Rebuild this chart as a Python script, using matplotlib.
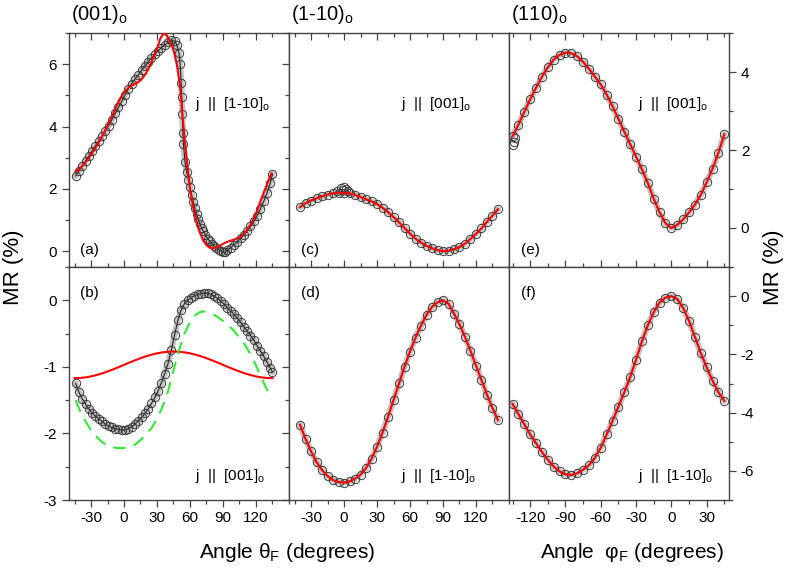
import numpy as np
import matplotlib
matplotlib.use("Agg")
import matplotlib.pyplot as plt
from matplotlib.ticker import MultipleLocator

plt.rcParams['font.family'] = ['Liberation Sans', 'DejaVu Sans']
plt.rcParams['mathtext.default'] = 'regular'
plt.rcParams['axes.unicode_minus'] = False

# ---- panel (a): (001)o, j || [1-10]o ----
a_theta = [-44, -41, -38, -35, -32, -29, -26, -23, -20, -17, -14, -11, -8, -5, -2, 1, 4, 7, 10, 13,
           16, 19, 22, 25, 28, 31, 34, 37, 40, 43, 46, 48, 50, 51, 52, 52.5, 53, 53.5, 54, 55.5,
           57, 58.5, 60, 61.5, 63, 64.5, 66, 67.5, 69, 70.5, 72, 74, 76, 78, 80, 82, 84, 86, 88, 90,
           92, 94, 97, 100, 103, 106, 109, 112, 115, 118, 121, 124, 127, 130, 133, 135]
a_mr = [2.42, 2.58, 2.74, 2.90, 3.06, 3.22, 3.38, 3.54, 3.70, 3.86, 4.03, 4.22, 4.42, 4.62, 4.82, 5.02, 5.22, 5.38, 5.52, 5.66,
        5.80, 5.94, 6.07, 6.20, 6.32, 6.43, 6.53, 6.62, 6.70, 6.76, 6.74, 6.62, 6.35, 6.00, 5.40, 4.95, 4.40, 3.80, 3.45, 2.85,
        2.55, 2.30, 2.05, 1.80, 1.58, 1.38, 1.20, 1.03, 0.88, 0.76, 0.65, 0.52, 0.41, 0.32, 0.24, 0.17, 0.11, 0.06, 0.02, -0.03,
        -0.02, 0.04, 0.12, 0.21, 0.31, 0.42, 0.53, 0.66, 0.80, 0.96, 1.14, 1.36, 1.60, 1.87, 2.20, 2.48]
a_fit_theta = [-44, -40, -35, -30, -25, -20, -15, -10, -5, 0, 5, 10, 15, 20, 25, 30, 33, 36, 39, 42, 45, 48,
               51, 54, 57, 60, 63, 66, 69, 72, 75, 78, 81, 84, 88, 92, 96, 100, 105, 110, 115, 120, 125, 130, 134]
a_fit_mr = [2.56, 2.66, 2.86, 3.10, 3.38, 3.68, 4.02, 4.40, 4.80, 5.10, 5.28, 5.36, 5.48, 5.70, 6.05, 6.50, 6.82, 6.99, 6.92, 6.72, 6.45, 6.0,
            5.3, 4.0, 2.95, 2.0, 1.4, 0.95, 0.6, 0.35, 0.2, 0.12, 0.1, 0.13, 0.2, 0.28, 0.33, 0.38, 0.45, 0.6, 0.85, 1.2, 1.7, 2.15, 2.5]

# ---- panel (b): (001)o, j || [001]o ----
b_theta = [-44, -41, -38, -35, -32, -29, -26, -23, -20, -17, -14, -11, -8, -5, -2, 1, 4, 7, 10, 13, 16, 19, 22, 25,
           28, 31, 34, 37, 40, 43, 46, 49, 52, 55, 58, 61, 64, 67, 70, 73, 76, 79, 82, 85, 88, 91, 94, 97, 100,
           103, 106, 109, 112, 115, 118, 121, 124, 127, 130, 133, 135]
b_mr = [-1.25, -1.38, -1.48, -1.56, -1.63, -1.69, -1.74, -1.78, -1.82, -1.86, -1.89, -1.91, -1.93, -1.94, -1.95, -1.95, -1.93, -1.90,
        -1.86, -1.81, -1.76, -1.70, -1.63, -1.55, -1.46, -1.36, -1.24, -1.10, -0.95, -0.75, -0.52, -0.30, -0.14, -0.05, 0.0, 0.04,
        0.07, 0.09, 0.10, 0.11, 0.11, 0.09, 0.06, 0.03, -0.01, -0.06, -0.11, -0.16, -0.21, -0.27, -0.33, -0.40, -0.46, -0.53,
        -0.60, -0.68, -0.76, -0.84, -0.93, -1.02, -1.08]
b_fit_theta = [-45, -40, -35, -30, -25, -20, -15, -10, -5, 0, 5, 10, 15, 20, 25, 30, 35, 40, 45, 50, 55, 60, 65,
               70, 75, 80, 85, 90, 95, 100, 105, 110, 115, 120, 125, 130, 135]
b_fit_mr = [-1.17, -1.167, -1.158, -1.143, -1.123, -1.099, -1.07, -1.038, -1.005, -0.97, -0.935, -0.902, -0.87, -0.841,
            -0.817, -0.797, -0.782, -0.773, -0.77, -0.773, -0.782, -0.797, -0.817, -0.841, -0.87, -0.902, -0.935, -0.97,
            -1.005, -1.038, -1.07, -1.099, -1.123, -1.143, -1.158, -1.167, -1.17]
b_green_theta = [-44, -40, -35, -30, -25, -20, -15, -10, -5, 0, 5, 10, 15, 20, 25, 30, 35, 40, 45, 50, 55, 60,
                 65, 70, 75, 80, 85, 90, 95, 100, 105, 110, 115, 120, 125, 130, 134]
b_green_mr = [-1.5, -1.66, -1.82, -1.95, -2.05, -2.13, -2.18, -2.21, -2.22, -2.22, -2.2, -2.17, -2.1, -2.02, -1.92, -1.78,
              -1.6, -1.37, -1.05, -0.75, -0.5, -0.33, -0.22, -0.17, -0.17, -0.2, -0.25, -0.31, -0.38, -0.46, -0.56, -0.67,
              -0.81, -0.98, -1.17, -1.34, -1.48]

# ---- panel (c): (1-10)o, j || [001]o ----
c_theta = [-40, -35, -30, -25, -20, -15, -10, -5, 0, 5, 10, 15, 20, 25, 30, 35, 40, 45, 50, 55, 60, 65, 70,
           75, 80, 85, 90, 95, 100, 105, 110, 115, 120, 125, 130, 135, 140]
c_mr = [1.42, 1.55, 1.63, 1.70, 1.77, 1.82, 1.86, 1.88, 1.88, 1.86, 1.81, 1.74, 1.67, 1.60, 1.52, 1.40, 1.26, 1.10,
        0.93, 0.75, 0.57, 0.41, 0.28, 0.18, 0.10, 0.04, 0.01, 0.02, 0.07, 0.14, 0.25, 0.40, 0.56, 0.74, 0.95, 1.15, 1.35]
c_extra_theta = [-6, -3, -1, 0, 2, 4]
c_extra_mr = [1.95, 2.02, 1.97, 2.08, 2.0, 1.94]

# ---- panel (d): (1-10)o, j || [1-10]o ----
d_theta = c_theta
d_mr = [-1.87, -2.08, -2.27, -2.43, -2.55, -2.64, -2.70, -2.73, -2.74, -2.72, -2.68, -2.62, -2.52, -2.38, -2.20, -1.99,
        -1.75, -1.50, -1.25, -1.00, -0.77, -0.56, -0.38, -0.22, -0.10, -0.03, 0.0, -0.05, -0.20, -0.36, -0.55, -0.76,
        -0.98, -1.20, -1.42, -1.62, -1.80]

# ---- panels (e), (f): (110)o ----
phi = [-135, -130, -125, -120, -115, -110, -105, -100, -95, -90, -85, -80, -75, -70, -65, -60, -55, -50, -45,
       -40, -35, -30, -25, -20, -15, -10, -5, 0, 5, 10, 15, 20, 25, 30, 35, 40, 45]
e_mr = [2.35, 2.65, 2.98, 3.30, 3.60, 3.88, 4.12, 4.32, 4.44, 4.50, 4.48, 4.40, 4.26, 4.08, 3.88, 3.68, 3.42, 3.12,
        2.80, 2.47, 2.15, 1.83, 1.50, 1.15, 0.75, 0.40, 0.12, 0.0, 0.08, 0.22, 0.40, 0.60, 0.85, 1.17, 1.52, 1.93, 2.40]
e_extra_phi = [-135, -134, -133]
e_extra_mr = [2.12, 2.2, 2.3]
f_mr = [-3.70, -4.05, -4.40, -4.75, -5.05, -5.35, -5.62, -5.85, -6.02, -6.12, -6.14, -6.08, -5.96, -5.80, -5.55, -5.20,
        -4.75, -4.28, -3.80, -3.30, -2.78, -2.18, -1.55, -1.00, -0.55, -0.22, -0.05, 0.0, -0.10, -0.40, -0.85, -1.40,
        -1.95, -2.45, -2.90, -3.30, -3.60]

W, H = 789, 575
fig = plt.figure(figsize=(W / 100, H / 100), dpi=100)

col_left = [69, 289, 509]
col_w = 220
row_top = [33, 267]
row_h = [234, 233]

axes = {}
for r in range(2):
    for c in range(3):
        x0 = col_left[c] / W
        y0 = 1 - (row_top[r] + row_h[r]) / H
        axes[(r, c)] = fig.add_axes([x0, y0, col_w / W, row_h[r] / H])

band_kw = dict(color='#c4c4c4', lw=4.5, solid_capstyle='round', solid_joinstyle='round', zorder=1)
data_kw = dict(marker='o', ms=6, mfc='none', mec='#3a3a3a', mew=0.7, color='#222222', lw=0.8, zorder=2)
fit_kw = dict(color='#ff0000', lw=1.5, zorder=3)


def data(ax, x, y):
    ax.plot(x, y, **band_kw)
    ax.plot(x, y, **data_kw)


ax = axes[(0, 0)]
data(ax, a_theta, a_mr)
ax.plot(a_fit_theta, a_fit_mr, **fit_kw)

ax = axes[(1, 0)]
data(ax, b_theta, b_mr)
ax.plot(b_fit_theta, b_fit_mr, **fit_kw)
ax.plot(b_green_theta, b_green_mr, color='#33e633', lw=1.5, dashes=(6, 4), zorder=3)

ax = axes[(0, 1)]
data(ax, c_theta, c_mr)
ax.plot(c_extra_theta, c_extra_mr, ls='none', marker='o', ms=6, mfc='none', mec='#3a3a3a', mew=0.7)
ax.plot(c_theta, c_mr, **fit_kw)

ax = axes[(1, 1)]
data(ax, d_theta, d_mr)
ax.plot(d_theta, d_mr, **fit_kw)

ax = axes[(0, 2)]
data(ax, phi, e_mr)
ax.plot(e_extra_phi, e_extra_mr, ls='none', marker='o', ms=6, mfc='none', mec='#3a3a3a', mew=0.7)
ax.plot(phi, e_mr, **fit_kw)

ax = axes[(1, 2)]
data(ax, phi, f_mr)
ax.plot(phi, f_mr, **fit_kw)

# limits and ticks
ylims = {0: (-0.5, 7.0), 1: (-3.0, 0.5)}
for r in range(2):
    for c in range(3):
        ax = axes[(r, c)]
        for s in ax.spines.values():
            s.set_color('#444444')
            s.set_linewidth(1.0)
        if c < 2:
            ax.set_xlim(-50, 150)
            ax.set_xticks([-30, 0, 30, 60, 90, 120])
            ax.xaxis.set_minor_locator(MultipleLocator(15))
            ax.set_ylim(*ylims[r])
        else:
            ax.set_xlim(-138, 49)
            ax.set_xticks([-120, -90, -60, -30, 0, 30])
            ax.xaxis.set_minor_locator(MultipleLocator(15))
        if r == 0:
            ax.tick_params(axis='x', which='both', direction='in', top=True, bottom=True, labelbottom=False)
        else:
            ax.tick_params(axis='x', which='both', direction='out', top=False, bottom=True, labelsize=11, pad=3)
        ax.tick_params(which='major', length=5, width=0.9, color='#444444')
        ax.tick_params(which='minor', length=3, width=0.9, color='#444444')
        if c == 0:
            ax.tick_params(axis='y', which='both', direction='out', left=True, right=False, labelsize=11)
        elif c == 1:
            ax.tick_params(axis='y', which='both', direction='out', left=True, right=False, labelleft=False)
        else:
            ax.tick_params(axis='y', which='both', direction='out', left=False, right=True,
                           labelleft=False, labelright=True, labelsize=11)

axes[(0, 0)].set_yticks([0, 2, 4, 6])
axes[(0, 0)].yaxis.set_minor_locator(MultipleLocator(1))
axes[(0, 1)].set_yticks([0, 2, 4, 6])
axes[(0, 1)].yaxis.set_minor_locator(MultipleLocator(1))
axes[(1, 0)].set_yticks([0, -1, -2, -3])
axes[(1, 0)].yaxis.set_minor_locator(MultipleLocator(0.5))
axes[(1, 1)].set_yticks([0, -1, -2, -3])
axes[(1, 1)].yaxis.set_minor_locator(MultipleLocator(0.5))
axes[(0, 2)].set_ylim(-1, 5)
axes[(0, 2)].set_yticks([0, 2, 4])
axes[(0, 2)].yaxis.set_minor_locator(MultipleLocator(1))
axes[(1, 2)].set_ylim(-7, 1)
axes[(1, 2)].set_yticks([0, -2, -4, -6])
axes[(1, 2)].yaxis.set_minor_locator(MultipleLocator(1))


def ftext(x, y, s, **kw):
    fig.text(x / W, 1 - y / H, s, **kw)


# column titles
ftext(71, 15, '(001)$_o$', fontsize=14.5, va='center', ha='left')
ftext(291, 15, '(1-10)$_o$', fontsize=14.5, va='center', ha='left')
ftext(511, 15, '(110)$_o$', fontsize=14.5, va='center', ha='left')

# panel letters
for (x, y, s) in [(80, 250, '(a)'), (80, 293, '(b)'), (301, 250, '(c)'),
                  (301, 293, '(d)'), (521, 250, '(e)'), (521, 293, '(f)')]:
    ftext(x, y, s, fontsize=11, va='center', ha='left')

# current direction labels
for (x, y, s) in [(195, 104, 'j  ||  [1-10]$_o$'), (195, 476, 'j  ||  [001]$_o$'),
                  (401, 104, 'j  ||  [001]$_o$'), (401, 476, 'j  ||  [1-10]$_o$'),
                  (638, 104, 'j  ||  [001]$_o$'), (638, 476, 'j  ||  [1-10]$_o$')]:
    ftext(x, y, s, fontsize=11, va='center', ha='left')

# axis labels
ftext(14, 267, 'MR (%)', fontsize=16, rotation=90, va='center', ha='center')
ftext(773, 267, 'MR (%)', fontsize=16, rotation=90, va='center', ha='center')
ftext(287, 553, 'Angle θ$_F$ (degrees)', fontsize=15, va='center', ha='center')
ftext(632, 553, 'Angle  φ$_F$ (degrees)', fontsize=15, va='center', ha='center')

fig.savefig('out.png', dpi=100)
